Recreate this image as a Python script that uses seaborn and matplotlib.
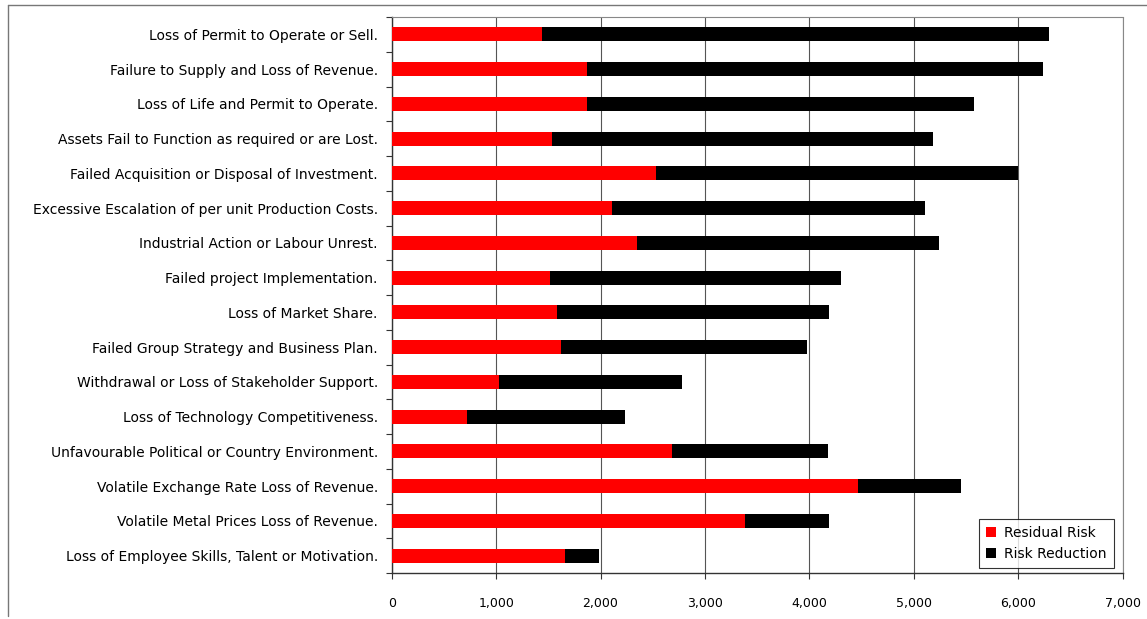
import matplotlib
matplotlib.use("Agg")
import matplotlib.pyplot as plt
from matplotlib.patches import Patch
from matplotlib.lines import Line2D
from matplotlib.ticker import FuncFormatter, MultipleLocator
import seaborn as sns
import pandas as pd

# Risk categories, top to bottom
risks = [
    "Loss of Permit to Operate or Sell.",
    "Failure to Supply and Loss of Revenue.",
    "Loss of Life and Permit to Operate.",
    "Assets Fail to Function as required or are Lost.",
    "Failed Acquisition or Disposal of Investment.",
    "Excessive Escalation of per unit Production Costs.",
    "Industrial Action or Labour Unrest.",
    "Failed project Implementation.",
    "Loss of Market Share.",
    "Failed Group Strategy and Business Plan.",
    "Withdrawal or Loss of Stakeholder Support.",
    "Loss of Technology Competitiveness.",
    "Unfavourable Political or Country Environment.",
    "Volatile Exchange Rate Loss of Revenue.",
    "Volatile Metal Prices Loss of Revenue.",
    "Loss of Employee Skills, Talent or Motivation.",
]

residual_risk = [1436, 1873, 1873, 1532, 2531, 2107, 2346, 1516,
                 1586, 1618, 1030, 718, 2684, 4462, 3383, 1660]
risk_reduction = [4855, 4364, 3706, 3654, 3464, 3000, 2898, 2787,
                  2602, 2362, 1750, 1519, 1497, 987, 807, 328]

x_ticks = [0, 1000, 2000, 3000, 4000, 5000, 6000, 7000]

df = pd.DataFrame({
    "risk": risks,
    "residual": residual_risk,
    "reduction": risk_reduction,
})
df["total"] = df["residual"] + df["reduction"]

sns.set_style("white")
plt.rcParams["font.family"] = ["DejaVu Sans"]
plt.rcParams["text.color"] = "black"

fig = plt.figure(figsize=(11.47, 6.19), dpi=100)
ax = fig.add_axes([0.3415, 0.0743, 0.9788 - 0.3415, 0.9725 - 0.0743])

# Stacked horizontal bars: full length in black, residual part in red over it
sns.barplot(data=df, x="total", y="risk", color="black", width=0.4,
            saturation=1, orient="h", ax=ax, zorder=3, linewidth=0)
sns.barplot(data=df, x="residual", y="risk", color="#ff0000", width=0.4,
            saturation=1, orient="h", ax=ax, zorder=4, linewidth=0)

ax.set_xlim(0, 7000)
ax.set_ylim(len(risks) - 0.5, -0.5)
ax.set_xticks(x_ticks)
ax.xaxis.set_major_formatter(FuncFormatter(lambda v, p: f"{int(v):,}"))
ax.set_xlabel("")
ax.set_ylabel("")

# Vertical gridlines at every 1,000
ax.grid(axis="x", color="#555555", linewidth=0.8, zorder=0)
ax.grid(axis="y", visible=False)

# Ticks: category separators on the y axis, outward ticks on x
ax.yaxis.set_minor_locator(MultipleLocator(1, offset=0.5))
ax.tick_params(axis="y", which="major", length=0, pad=10, labelsize=10,
               labelcolor="black")
ax.tick_params(axis="y", which="minor", length=4, width=0.8, color="#333333",
               direction="out", left=True)
ax.tick_params(axis="x", which="major", length=4, width=0.8, color="#333333",
               direction="out", bottom=True, pad=13, labelsize=9,
               labelcolor="black")

for side in ("left", "bottom"):
    ax.spines[side].set_color("#333333")
    ax.spines[side].set_linewidth(1.0)
for side in ("top", "right"):
    ax.spines[side].set_color("#888888")
    ax.spines[side].set_linewidth(0.8)
    ax.spines[side].set_linestyle((0, (2, 1)))

handles = [Patch(facecolor="#ff0000", edgecolor="none"),
           Patch(facecolor="black", edgecolor="none")]
leg = ax.legend(handles, ["Residual Risk", "Risk Reduction"],
                loc="lower right", bbox_to_anchor=(0.988, 0.009),
                borderaxespad=0, fontsize=10, frameon=True, fancybox=False,
                handlelength=0.7, handleheight=0.7, handletextpad=0.6,
                labelspacing=0.5, borderpad=0.5)
leg.get_frame().set_edgecolor("black")
leg.get_frame().set_linewidth(0.8)
leg.set_zorder(10)

# Outer page frame along the top and left edges
fig.add_artist(Line2D([0.007, 0.007], [0.005, 0.992], transform=fig.transFigure,
                      color="#777777", linewidth=1.0))
fig.add_artist(Line2D([0.007, 1.0], [0.992, 0.992], transform=fig.transFigure,
                      color="#777777", linewidth=1.0))

fig.savefig("out.png", dpi=100, facecolor="white")
